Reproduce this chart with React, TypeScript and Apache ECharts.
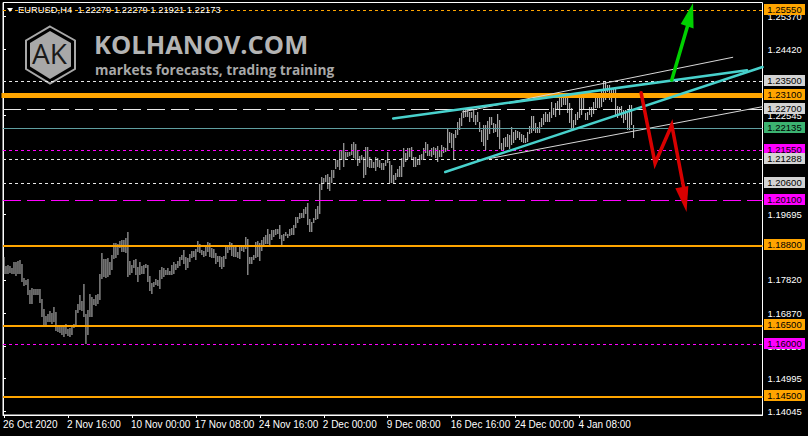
import React, { useEffect, useRef } from "react";
import * as echarts from "echarts";

const highs = [
  1.1847,1.1822,1.1826,1.1822,1.1817,1.1834,1.1834,1.1836,1.1839,1.1827,1.1788,1.1781,1.1784,1.1753,1.1758,1.1755,1.1757,1.1757,1.1755,1.1727,
  1.1698,1.1679,1.1683,1.1692,1.1686,1.1703,1.1689,1.1652,1.1647,1.1647,1.1647,1.1655,1.1641,1.1644,1.1647,1.1657,1.1695,1.1714,1.1738,1.1721,
  1.1769,1.1683,1.1695,1.1743,1.1734,1.1727,1.1738,1.1743,1.1800,1.1859,1.1841,1.1843,1.1845,1.1832,1.1853,1.1889,1.1889,1.1884,1.1893,1.1896,
  1.1896,1.1901,1.1918,1.1836,1.1826,1.1839,1.1841,1.1820,1.1832,1.1822,1.1826,1.1829,1.1826,1.1794,1.1772,1.1777,1.1786,1.1781,1.1810,1.1820,
  1.1815,1.1810,1.1815,1.1807,
  1.1826,1.1832,1.1829,1.1836,1.1847,1.1853,1.1868,1.1847,1.1844,1.1856,1.1865,1.1865,1.1872,1.1893,1.1885,1.1868,1.1865,1.1877,1.1890,1.1887,
  1.1874,1.1870,1.1858,1.1850,1.1850,1.1847,1.1850,1.1879,1.1875,1.1890,1.1887,1.1877,1.1875,1.1863,1.1875,1.1877,1.1875,1.1906,1.1899,1.1847,
  1.1847,1.1853,1.1891,1.1894,1.1889,1.1896,1.1906,1.1911,1.1927,1.1913,1.1925,1.1925,1.1927,1.1927,1.1939,1.1911,1.1913,1.1920,1.1913,1.1927,
  1.1930,1.1939,1.1963,1.1963,1.1975,1.1975,1.1985,1.1992,1.2003,1.1958,1.1949,1.1960,1.1985,1.1994,1.2057,1.2078,1.2073,1.2083,1.2087,1.2078,
  1.2097,1.2097,
  1.2126,1.2126,1.2154,1.2154,1.2174,1.2150,1.2150,1.2150,1.2172,1.2176,1.2172,1.2154,1.2138,1.2140,1.2135,1.2164,1.2164,1.2135,1.2126,1.2119,
  1.2133,1.2131,1.2126,1.2116,1.2116,1.2126,1.2148,1.2123,1.2112,1.2083,1.2088,1.2100,1.2109,1.2131,1.2159,1.2145,1.2159,1.2161,1.2164,1.2135,
  1.2135,1.2126,1.2140,1.2142,1.2159,1.2176,1.2171,1.2154,1.2161,1.2164,1.2161,1.2167,1.2154,1.2169,1.2164,1.2159,1.2215,1.2207,1.2202,1.2199,
  1.2212,1.2236,1.2245,1.2260,1.2269,1.2272,1.2269,1.2264,1.2262,1.2269,1.2255,1.2262,1.2234,1.2212,1.2226,
  1.2226,1.2238,1.2250,1.2248,1.2231,1.2228,1.2258,1.2241,1.2174,1.2188,1.2193,1.2199,1.2198,1.2221,1.2205,1.2212,1.2209,1.2205,1.2199,1.2198,
  1.2188,1.2207,1.2223,1.2252,1.2252,1.2231,1.2221,1.2236,1.2245,1.2257,1.2262,1.2257,1.2262,1.2293,1.2276,1.2288,1.2295,1.2305,1.2305,1.2305,
  1.2305,1.2305,1.2288,1.2274,1.2241,1.2257,1.2262,1.2305,1.2303,1.2305,1.2260,1.2262,1.2279,1.2279,1.2293,1.2305,1.2303,1.2305,1.2326,1.2350,
  1.2350,1.2341,1.2341,1.2331,1.2329,1.2329,1.2282,1.2279,1.2282,1.2269,1.2269,1.2260,1.2284,1.2284,1.2226,
];

const lows = [
  1.1800,1.1799,1.1798,1.1802,1.1800,1.1800,1.1793,1.1800,1.1800,1.1777,1.1764,1.1767,1.1738,1.1712,1.1714,1.1738,1.1740,1.1738,1.1717,1.1676,
  1.1652,1.1652,1.1662,1.1662,1.1657,1.1662,1.1635,1.1633,1.1631,1.1625,1.1619,1.1628,1.1622,1.1619,1.1625,1.1643,1.1649,1.1686,1.1695,1.1692,
  1.1676,1.1598,1.1623,1.1676,1.1676,1.1710,1.1708,1.1714,1.1724,1.1786,1.1789,1.1788,1.1791,1.1796,1.1810,1.1841,1.1846,1.1853,1.1874,1.1863,
  1.1861,1.1858,1.1791,1.1796,1.1803,1.1815,1.1796,1.1777,1.1796,1.1798,1.1800,1.1815,1.1777,1.1751,1.1743,1.1762,1.1767,1.1765,1.1757,1.1786,
  1.1791,1.1796,1.1796,1.1796,
  1.1796,1.1799,1.1810,1.1817,1.1822,1.1839,1.1829,1.1810,1.1817,1.1834,1.1844,1.1847,1.1839,1.1863,1.1858,1.1853,1.1849,1.1850,1.1863,1.1847,
  1.1846,1.1844,1.1827,1.1834,1.1820,1.1813,1.1818,1.1842,1.1858,1.1868,1.1850,1.1847,1.1847,1.1844,1.1842,1.1866,1.1863,1.1872,1.1796,1.1829,
  1.1827,1.1839,1.1844,1.1849,1.1836,1.1865,1.1877,1.1885,1.1885,1.1882,1.1896,1.1906,1.1911,1.1915,1.1899,1.1882,1.1893,1.1909,1.1901,1.1909,
  1.1911,1.1911,1.1930,1.1944,1.1956,1.1960,1.1960,1.1971,1.1939,1.1920,1.1918,1.1946,1.1954,1.1958,1.1971,1.2040,1.2057,1.2064,1.2044,1.2038,
  1.2059,1.2073,
  1.2100,1.2107,1.2097,1.2126,1.2107,1.2126,1.2135,1.2137,1.2140,1.2131,1.2126,1.2109,1.2116,1.2126,1.2075,1.2083,1.2107,1.2102,1.2102,1.2102,
  1.2093,1.2107,1.2102,1.2097,1.2097,1.2109,1.2116,1.2059,1.2059,1.2059,1.2069,1.2078,1.2078,1.2078,1.2107,1.2121,1.2129,1.2135,1.2126,1.2107,
  1.2107,1.2112,1.2112,1.2126,1.2126,1.2145,1.2137,1.2138,1.2135,1.2140,1.2131,1.2121,1.2135,1.2135,1.2145,1.2150,1.2153,1.2174,1.2159,1.2126,
  1.2188,1.2198,1.2212,1.2224,1.2245,1.2250,1.2250,1.2236,1.2245,1.2236,1.2226,1.2236,1.2207,1.2176,1.2167,
  1.2154,1.2183,1.2199,1.2226,1.2202,1.2207,1.2193,1.2157,1.2152,1.2154,1.2164,1.2164,1.2157,1.2169,1.2174,1.2183,1.2188,1.2183,1.2178,1.2174,
  1.2174,1.2178,1.2199,1.2202,1.2210,1.2202,1.2202,1.2202,1.2221,1.2226,1.2236,1.2236,1.2236,1.2245,1.2255,1.2250,1.2269,1.2255,1.2279,1.2284,
  1.2284,1.2260,1.2231,1.2212,1.2212,1.2226,1.2241,1.2245,1.2255,1.2269,1.2241,1.2241,1.2255,1.2250,1.2257,1.2274,1.2274,1.2274,1.2279,1.2293,
  1.2298,1.2322,1.2298,1.2293,1.2305,1.2255,1.2245,1.2255,1.2245,1.2231,1.2241,1.2212,1.2212,1.2226,1.2188,
];

const xTickLabels = [
  "26 Oct 2020", "2 Nov 16:00", "10 Nov 00:00", "17 Nov 08:00", "24 Nov 16:00",
  "2 Dec 00:00", "9 Dec 08:00", "16 Dec 16:00", "24 Dec 00:00", "4 Jan 08:00",
];
const barsPerXTick = 32;

const yTickValues = [1.2537, 1.2442, 1.22545, 1.19695, 1.1782, 1.1687, 1.1592, 1.14995, 1.14045];

const levelPrices = [1.2555, 1.235, 1.227, 1.22135, 1.2155, 1.21288, 1.206, 1.201, 1.188, 1.165, 1.16, 1.145, 1.231];

const cyanUpper = [[195.25, 1.22447], [372.25, 1.2383]];
const cyanLower = [[221.25, 1.20914], [380, 1.23924]];
const whiteUpper = [[229.75, 1.22634], [365.1, 1.24202]];
const whiteLower = [[242.25, 1.21287], [380, 1.22786]];
const greenPath = [[334.6, 1.23551], [342.5, 1.251]];
const greenHead = [[345.25, 1.25759], [339.1, 1.25157], [345.5, 1.25028]];
const redPath = [[319.25, 1.23187], [326.25, 1.21163], [334.6, 1.22261], [341.25, 1.20254]];
const redHead = [[342, 1.19767], [336.4, 1.20446], [342.9, 1.20512]];

const chartFont = "Liberation Sans";
const ORANGE = "#ffa500";
const MAGENTA = "#ff00ff";
const GREY = "#d3d3d3";
const dots = [3, 3];
const longDash = [18, 6];

const levelStyle: Record<number, { line: string; box: string; dash: number[] | null; width: number; nudge: number }> = {
  1.2555: { line: ORANGE, box: ORANGE, dash: dots, width: 1, nudge: 0 },
  1.235: { line: "#e8e8e8", box: GREY, dash: dots, width: 1, nudge: 0 },
  1.231: { line: ORANGE, box: ORANGE, dash: null, width: 5, nudge: 0 },
  1.227: { line: "#e8e8e8", box: GREY, dash: longDash, width: 1, nudge: 0 },
  1.22135: { line: "#5f9ea0", box: "#3cb371", dash: null, width: 1, nudge: -1 },
  1.2155: { line: MAGENTA, box: MAGENTA, dash: dots, width: 1, nudge: 1 },
  1.21288: { line: "#e8e8e8", box: GREY, dash: dots, width: 1, nudge: 1 },
  1.206: { line: "#e8e8e8", box: GREY, dash: dots, width: 1, nudge: 1 },
  1.201: { line: MAGENTA, box: MAGENTA, dash: longDash, width: 1, nudge: 0 },
  1.188: { line: ORANGE, box: ORANGE, dash: null, width: 2, nudge: 0 },
  1.165: { line: ORANGE, box: ORANGE, dash: null, width: 2, nudge: 0 },
  1.16: { line: MAGENTA, box: MAGENTA, dash: dots, width: 1, nudge: 1 },
  1.145: { line: ORANGE, box: ORANGE, dash: null, width: 2, nudge: 1 },
};

function App() {
  const ref = useRef<HTMLDivElement>(null);
  useEffect(() => {
    document.body.style.margin = "0";
    document.body.style.background = "#000";
    const chart = echarts.init(ref.current!, undefined, { renderer: "svg" });
    const bars = highs.map((h, i) => [i + 0.5, h, lows[i]]);
    const xTicks = xTickLabels.map((_, i) => i * barsPerXTick + 0.5);
    const xLabelAt = xTickLabels.map((_, i) => i * barsPerXTick);
    const lineSeries = (data: number[][], color: string, width: number) => ({
      type: "line",
      data,
      symbol: "none",
      silent: true,
      z: 4,
      lineStyle: { color, width, cap: "round", join: "miter" },
    });
    const headSeries = (pts: number[][], color: string) => ({
      type: "custom",
      silent: true,
      z: 5,
      data: [[pts[0][0], pts[0][1]]],
      renderItem: (_: any, api: any) => ({
        type: "polygon",
        shape: { points: pts.map((p) => api.coord(p)) },
        style: { fill: color },
      }),
    });
    chart.setOption({
      animation: false,
      backgroundColor: "#000",
      textStyle: { fontFamily: chartFont },
      grid: { left: 2.5, top: 2.5, width: 760, height: 412.5, show: true, borderColor: "#fff", borderWidth: 1, backgroundColor: "transparent" },
      xAxis: {
        type: "value",
        min: 0,
        max: 380,
        splitLine: { show: false },
        axisLine: { show: true, lineStyle: { color: "#fff" } },
        axisTick: { show: true, length: 3, customValues: xTicks, lineStyle: { color: "#fff" } },
        axisLabel: {
          show: true,
          customValues: xLabelAt,
          align: "left",
          margin: 4,
          color: "#fff",
          fontSize: 10,
          fontFamily: chartFont,
          formatter: (v: number) => xTickLabels[Math.round(v / barsPerXTick)] ?? "",
        },
      },
      yAxis: {
        type: "value",
        position: "right",
        min: 1.13947,
        max: 1.25773,
        splitLine: { show: false },
        axisLine: { show: true, lineStyle: { color: "#fff" } },
        axisTick: { show: true, length: 3, customValues: yTickValues, lineStyle: { color: "#fff" } },
        axisLabel: {
          show: true,
          customValues: yTickValues,
          margin: 5,
          color: "#fff",
          fontSize: 9.5,
          fontFamily: chartFont,
          formatter: (v: number) => v.toFixed(5),
        },
      },
      series: [
        {
          type: "custom",
          silent: true,
          z: 1,
          data: bars,
          encode: { x: 0, y: [1, 2] },
          renderItem: (_: any, api: any) => {
            const a = api.coord([api.value(0), api.value(1)]);
            const b = api.coord([api.value(0), api.value(2)]);
            return {
              type: "line",
              shape: { x1: a[0], y1: Math.round(a[1]), x2: b[0], y2: Math.round(b[1]) },
              style: { stroke: "#c4c4c4", lineWidth: 1, fill: "none" },
            };
          },
        },
        {
          type: "custom",
          silent: true,
          z: 3,
          data: levelPrices.map((v) => [0, v]),
          encode: { x: 0, y: 1 },
          renderItem: (_: any, api: any) => {
            const v = api.value(1);
            const s = levelStyle[v];
            const left = api.coord([0, v]);
            const right = api.coord([380, v]);
            const row = Math.floor(left[1]) + s.nudge;
            const y = s.width === 2 ? Math.round(left[1]) + s.nudge : row + 0.5;
            const x0 = s.width === 5 ? left[0] - 1.5 : left[0];
            return {
              type: "group",
              children: [
                {
                  type: "line",
                  shape: { x1: x0, y1: y, x2: right[0], y2: y },
                  style: { stroke: s.line, lineWidth: s.width, lineDash: s.dash ?? undefined, fill: "none" },
                },
                {
                  type: "rect",
                  shape: { x: right[0] + 1.5, y: row - 6, width: 41, height: 11 },
                  style: { fill: s.box },
                },
                {
                  type: "text",
                  style: {
                    x: right[0] + 22,
                    y: row - 0.5,
                    text: v.toFixed(5),
                    fill: "#000",
                    font: `9.5px "${chartFont}"`,
                    align: "center",
                    verticalAlign: "middle",
                  },
                },
              ],
            };
          },
        },
        lineSeries(whiteUpper, "#d8d8d8", 1),
        lineSeries(whiteLower, "#d8d8d8", 1),
        lineSeries(cyanUpper, "#48d1cc", 2.5),
        lineSeries(cyanLower, "#48d1cc", 2.5),
        lineSeries(greenPath, "#00d000", 3.5),
        headSeries(greenHead, "#00d000"),
        lineSeries(redPath, "#d80000", 3.5),
        headSeries(redHead, "#d80000"),
      ],
      graphic: [
        { type: "polygon", z: 10, shape: { points: [[7, 8], [13, 8], [10, 12]] }, style: { fill: "#fff" } },
        { type: "text", z: 10, x: 18, y: 5, style: { text: "EURUSD,H4  1.22279 1.22279 1.21921 1.22173", fill: "#fff", font: `9.4px "${chartFont}"` } },
        { type: "polygon", z: 0, shape: { points: [[50, 26.5], [75, 40.5], [75, 69], [50, 83.5], [26, 69], [26, 40.5]] }, style: { fill: "none", stroke: "#a8a8a8", lineWidth: 2 } },
        { type: "polygon", z: 0, shape: { points: [[50, 31], [71, 43], [71, 66.5], [50, 79], [30, 66.5], [30, 43]] }, style: { fill: "#a8a8a8" } },
        { type: "text", z: 0, x: 32, y: 39, style: { text: "AK", fill: "#1a1a1a", font: '28px "Open Sans"' } },
        { type: "text", z: 0, x: 94, y: 31, style: { text: "KOLHANOV.COM", fill: "#b4b4b4", font: '700 25.5px "Open Sans"' } },
        { type: "text", z: 0, x: 95, y: 62, style: { text: "markets forecasts, trading training", fill: "#a8a8a8", font: '700 13.7px "Open Sans"' } },
      ],
    });
    return () => chart.dispose();
  }, []);
  return <div ref={ref} style={{ width: 808, height: 436 }} />;
}

export default App;
